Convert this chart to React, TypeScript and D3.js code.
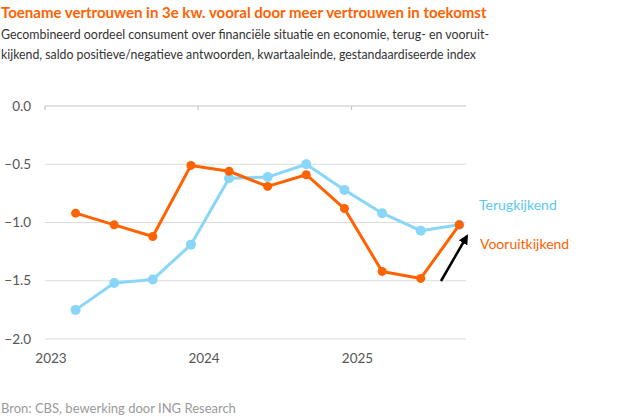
import React, { useEffect, useRef } from 'react';
import * as d3 from 'd3';

const quarters = [
  '2023-03-15', '2023-06-15', '2023-09-15', '2023-12-15',
  '2024-03-15', '2024-06-15', '2024-09-15', '2024-12-15',
  '2025-03-15', '2025-06-15', '2025-09-15',
];
const terugkijkend = [-1.75, -1.52, -1.49, -1.19, -0.62, -0.61, -0.5, -0.72, -0.92, -1.07, -1.02];
const vooruitkijkend = [-0.92, -1.02, -1.12, -0.51, -0.56, -0.69, -0.59, -0.88, -1.42, -1.48, -1.02];
const yTicks = [0, -0.5, -1, -1.5, -2];
const yearTicks = ['2023-01-01', '2024-01-01', '2025-01-01'];

const ORANGE = '#ff6200';
const BLUE = '#89d6f8';
const FONT = 'Lato, sans-serif';

const App: React.FC = () => {
  const svgRef = useRef<SVGSVGElement | null>(null);

  useEffect(() => {
    const width = 626;
    const height = 417;
    const margin = { top: 106, right: 160, bottom: 78, left: 45 };

    const svg = d3.select(svgRef.current);
    svg.selectAll('*').remove();
    svg.attr('width', width).attr('height', height);

    const parse = d3.timeParse('%Y-%m-%d');
    const dates = quarters.map((q) => parse(q)!);

    const x = d3
      .scaleTime()
      .domain([parse('2023-01-01')!, parse('2025-10-01')!])
      .range([margin.left, width - margin.right]);
    const y = d3.scaleLinear().domain([-2, 0]).range([height - margin.bottom, margin.top]);

    // title + subtitle
    svg.append('text')
      .attr('x', 1).attr('y', 18)
      .attr('fill', ORANGE)
      .style('font-family', FONT).style('font-size', '15px').style('font-weight', 700)
      .text('Toename vertrouwen in 3e kw. vooral door meer vertrouwen in toekomst');
    const subLines = [
      'Gecombineerd oordeel consument over financiële situatie en economie, terug- en vooruit-',
      'kijkend, saldo positieve/negatieve antwoorden, kwartaaleinde, gestandaardiseerde index',
    ];
    svg.append('g')
      .selectAll('text')
      .data(subLines)
      .join('text')
      .attr('x', 1).attr('y', (_, i) => 39 + i * 19.5)
      .attr('fill', '#333')
      .attr('textLength', (_, i) => (i === 0 ? 488 : 475))
      .attr('lengthAdjust', 'spacingAndGlyphs')
      .style('font-family', FONT).style('font-size', '13.2px')
      .text((d) => d);

    // gridlines
    svg.append('g')
      .selectAll('line')
      .data(yTicks)
      .join('line')
      .attr('x1', margin.left).attr('x2', width - margin.right)
      .attr('y1', (d) => y(d)).attr('y2', (d) => y(d))
      .attr('stroke', (d) => (d === 0 ? '#c4c4c4' : '#dcdcdc'))
      .attr('stroke-width', 1.2);

    // year ticks on zero line
    svg.append('g')
      .selectAll('line')
      .data(yearTicks)
      .join('line')
      .attr('x1', (d) => x(parse(d)!)).attr('x2', (d) => x(parse(d)!))
      .attr('y1', y(0)).attr('y2', y(0) + 4)
      .attr('stroke', '#c4c4c4').attr('stroke-width', 1.2);

    // y labels
    svg.append('g')
      .selectAll('text')
      .data(yTicks)
      .join('text')
      .attr('x', 31).attr('y', (d) => y(d))
      .attr('dy', '0.35em')
      .attr('text-anchor', 'end')
      .attr('fill', '#555')
      .style('font-family', FONT).style('font-size', '13.5px')
      .text((d) => d3.format('.1f')(d));

    // year labels
    svg.append('g')
      .selectAll('text')
      .data(yearTicks)
      .join('text')
      .attr('x', (d) => x(parse(d)!) + 6).attr('y', height - margin.bottom + 24)
      .attr('text-anchor', 'middle')
      .attr('fill', '#555')
      .style('font-family', FONT).style('font-size', '13.5px')
      .text((d) => d.slice(0, 4));

    const line = d3.line<number>()
      .x((_, i) => x(dates[i]))
      .y((d) => y(d));

    const series = [
      { values: terugkijkend, color: BLUE, r: 5 },
      { values: vooruitkijkend, color: ORANGE, r: 4.5 },
    ];
    series.forEach((s) => {
      svg.append('path')
        .datum(s.values)
        .attr('fill', 'none')
        .attr('stroke', s.color)
        .attr('stroke-width', 3)
        .attr('stroke-linejoin', 'round')
        .attr('d', line);
      svg.append('g')
        .selectAll('circle')
        .data(s.values)
        .join('circle')
        .attr('cx', (_, i) => x(dates[i]))
        .attr('cy', (d) => y(d))
        .attr('r', s.r)
        .attr('fill', s.color);
    });

    // series labels
    svg.append('text')
      .attr('x', 479).attr('y', 210)
      .attr('fill', '#5cc8f2')
      .style('font-family', FONT).style('font-size', '14px')
      .text('Terugkijkend');
    svg.append('text')
      .attr('x', 480).attr('y', 249)
      .attr('fill', ORANGE)
      .style('font-family', FONT).style('font-size', '14px')
      .text('Vooruitkijkend');

    // arrow
    const defs = svg.append('defs');
    defs.append('marker')
      .attr('id', 'arrowhead')
      .attr('viewBox', '0 0 10 10')
      .attr('refX', 8).attr('refY', 5)
      .attr('markerWidth', 4).attr('markerHeight', 4)
      .attr('orient', 'auto')
      .append('path')
      .attr('d', 'M0,0 L10,5 L0,10 Z')
      .attr('fill', '#000');
    svg.append('line')
      .attr('x1', 441).attr('y1', 281)
      .attr('x2', 467).attr('y2', 236)
      .attr('stroke', '#000').attr('stroke-width', 2.5)
      .attr('marker-end', 'url(#arrowhead)');

    // source
    svg.append('text')
      .attr('x', 1).attr('y', 413)
      .attr('fill', '#9a9a9a')
      .style('font-family', FONT).style('font-size', '13px')
      .text('Bron: CBS, bewerking door ING Research');
  }, []);

  return <svg ref={svgRef} style={{ position: 'absolute', left: 0, top: 0 }}></svg>;
};

export default App;
